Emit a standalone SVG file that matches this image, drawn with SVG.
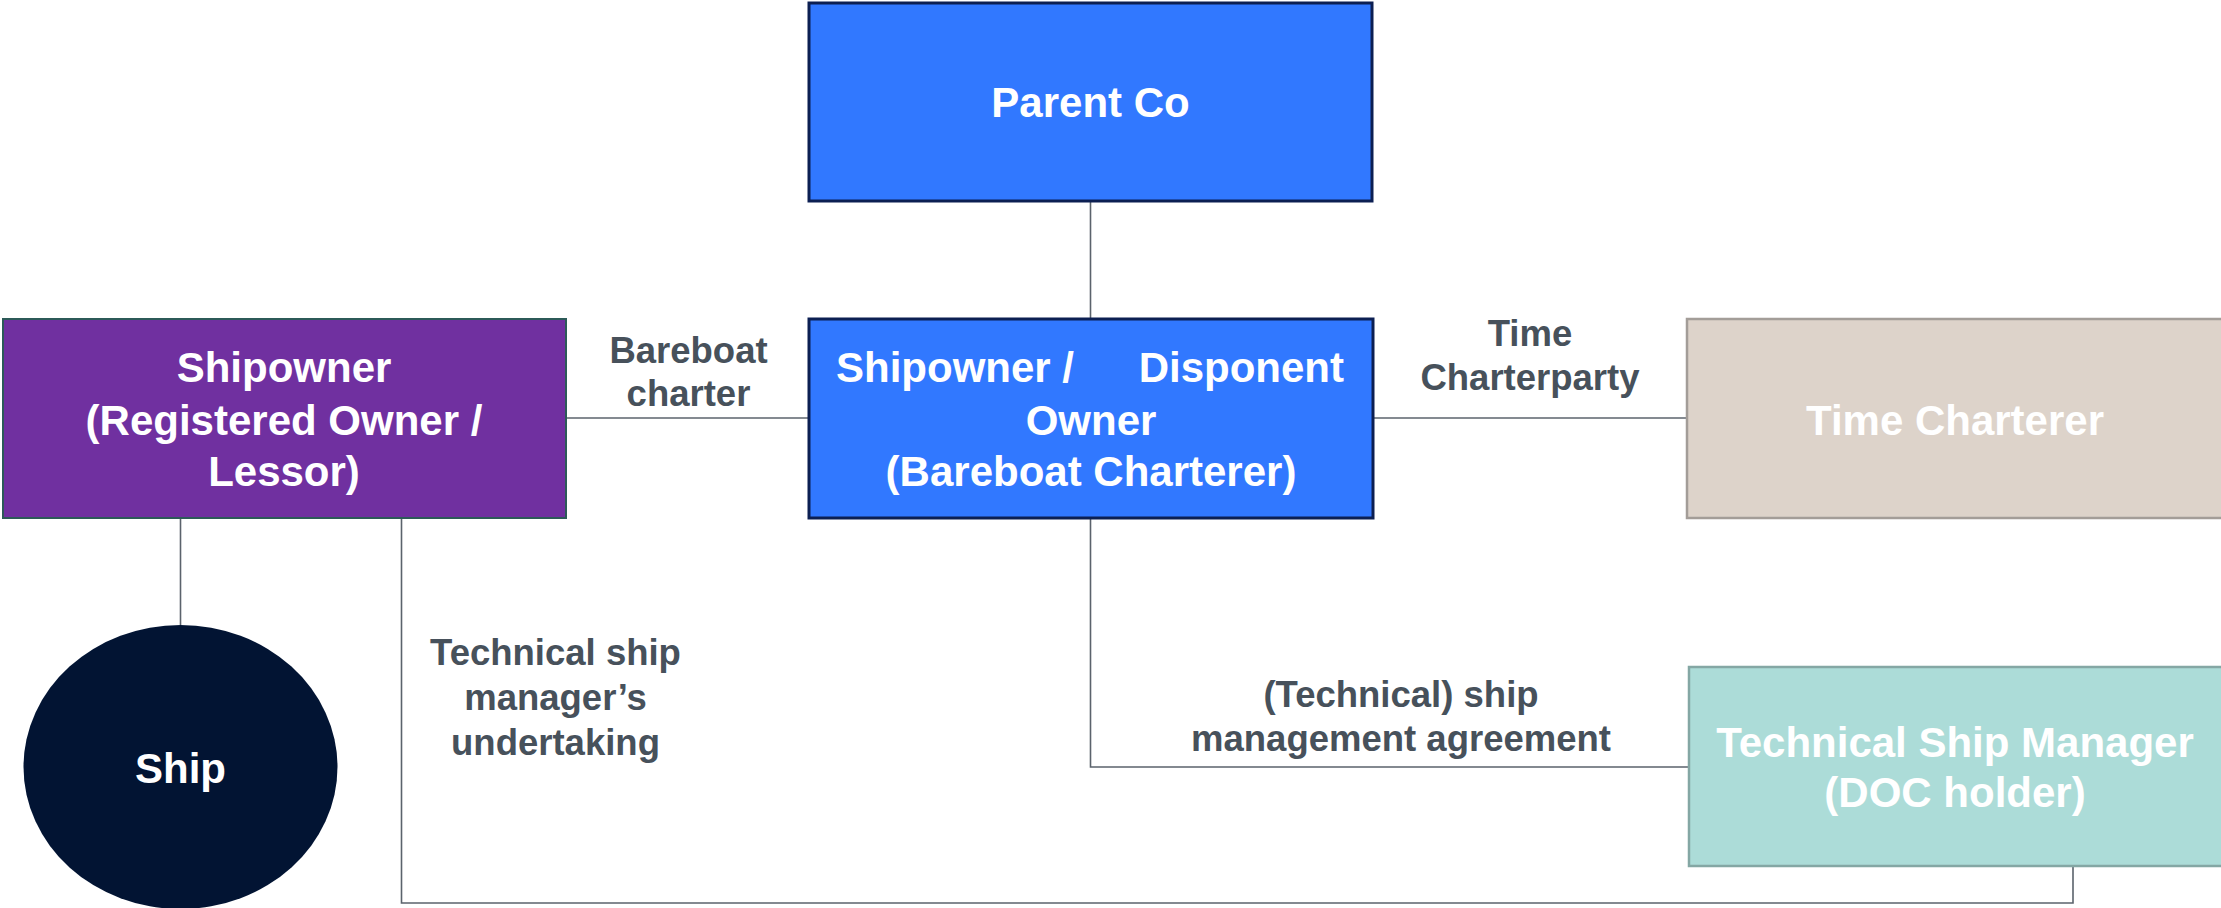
<svg xmlns="http://www.w3.org/2000/svg" width="2221" height="908" viewBox="0 0 2221 908">
  <style>
    .node-text { font-family: "Liberation Sans", Arial, sans-serif; font-weight: bold; font-size: 42px; fill: #ffffff; text-anchor: middle; }
    .label { font-family: "Liberation Sans", Arial, sans-serif; font-weight: bold; font-size: 36.5px; fill: #47515b; text-anchor: middle; }
    .conn { fill: none; stroke: #5b636c; stroke-width: 1.6; }
    .blue { fill: #3178ff; stroke: #0c1f52; stroke-width: 3; }
  </style>
  <rect width="2221" height="908" fill="#ffffff"/>

  <!-- connectors -->
  <g id="connectors">
    <path class="conn" d="M1090.5 201 V319"/>
    <path class="conn" d="M566 418 H809"/>
    <path class="conn" d="M1373 418 H1687"/>
    <path class="conn" d="M180.5 518 V625"/>
    <path class="conn" d="M1090.5 518 V767 H1689"/>
    <path class="conn" d="M401.5 518 V903 H2073 V866"/>
  </g>

  <!-- connector labels -->
  <g id="labels">
    <text class="label" x="688.5" y="363">Bareboat</text>
    <text class="label" x="688.5" y="406">charter</text>
    <text class="label" x="1530" y="346">Time</text>
    <text class="label" x="1530" y="390">Charterparty</text>
    <text class="label" x="555.5" y="665">Technical ship</text>
    <text class="label" x="555.5" y="710">manager’s</text>
    <text class="label" x="555.5" y="755">undertaking</text>
    <text class="label" x="1401" y="707">(Technical) ship</text>
    <text class="label" x="1401" y="751">management agreement</text>
  </g>

  <g id="parent-co">
    <rect class="blue" x="809" y="3" width="563" height="198"/>
    <text class="node-text" x="1090.5" y="117">Parent Co</text>
  </g>

  <g id="shipowner">
    <rect x="3" y="319" width="563" height="199" fill="#7030a0" stroke="#2c5a58" stroke-width="2"/>
    <text class="node-text" x="284" y="382">Shipowner</text>
    <text class="node-text" x="284" y="435">(Registered Owner /</text>
    <text class="node-text" x="284" y="486">Lessor)</text>
  </g>

  <g id="disponent-owner">
    <rect class="blue" x="809" y="319" width="564" height="199"/>
    <text class="node-text" y="382"><tspan x="836" text-anchor="start">Shipowner /</tspan><tspan x="1344" text-anchor="end">Disponent</tspan></text>
    <text class="node-text" x="1091" y="435">Owner</text>
    <text class="node-text" x="1091" y="486">(Bareboat Charterer)</text>
  </g>

  <g id="time-charterer">
    <rect x="1687" y="319" width="545" height="199" fill="#ddd3ca" stroke="#a39d98" stroke-width="2.5"/>
    <text class="node-text" x="1955" y="435">Time Charterer</text>
  </g>

  <g id="ship">
    <ellipse cx="180.5" cy="767" rx="157" ry="142" fill="#021433"/>
    <text class="node-text" x="180.5" y="783">Ship</text>
  </g>

  <g id="technical-ship-manager">
    <rect x="1689" y="667" width="545" height="199" fill="#acdcd8" stroke="#84a7a4" stroke-width="2.5"/>
    <text class="node-text" x="1955" y="757">Technical Ship Manager</text>
    <text class="node-text" x="1955" y="807">(DOC holder)</text>
  </g>
</svg>
